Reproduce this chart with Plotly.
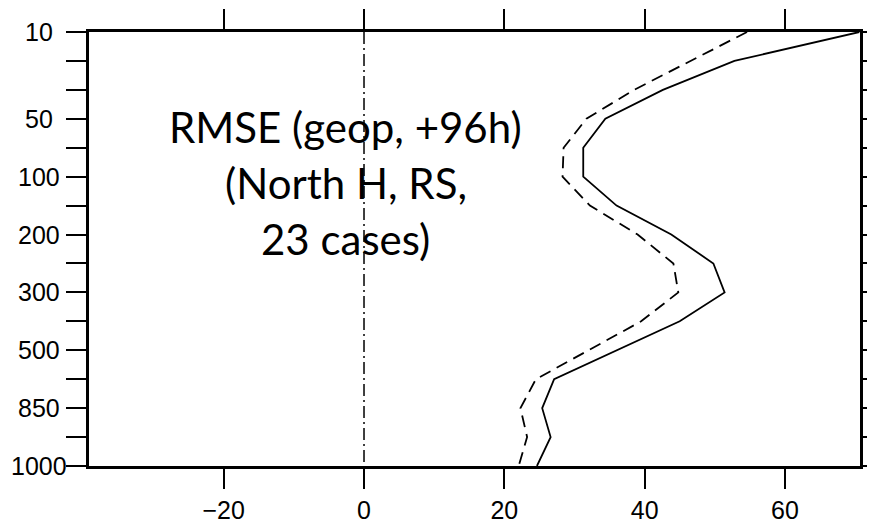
import plotly.graph_objects as go

levels = ["10", "20", "30", "50", "70", "100", "150", "200", "250", "300",
          "400", "500", "700", "850", "925", "1000"]
labeled_levels = ["10", "50", "100", "200", "300", "500", "850", "1000"]
rmse_solid = [70.6, 52.8, 42.6, 34.4, 31.25, 31.25, 36.0, 43.8, 49.8, 51.4,
              45.0, 36.0, 27.1, 25.4, 26.6, 24.65]
rmse_dashed = [54.6, 46.5, 38.5, 31.7, 28.45, 28.3, 32.2, 39.0, 44.1, 44.8,
               39.5, 32.0, 24.5, 22.3, 23.25, 22.05]
zero_x = [0, 0]
zero_y = ["10", "1000"]
x_ticks = [-20, 0, 20, 40, 60]
title_lines = ["RMSE (geop, +96h)", "(North H, RS,", "23 cases)"]

fig = go.Figure()
fig.add_trace(go.Scatter(x=zero_x, y=zero_y, mode="lines",
                         line=dict(color="black", width=1.5, dash="12px,4px,2px,4px"),
                         showlegend=False, hoverinfo="skip"))
fig.add_trace(go.Scatter(x=rmse_dashed, y=levels, mode="lines",
                         line=dict(color="black", width=1.8, dash="12px,7px"),
                         showlegend=False))
fig.add_trace(go.Scatter(x=rmse_solid, y=levels, mode="lines",
                         line=dict(color="black", width=1.8),
                         showlegend=False))

tick_font = dict(family="Liberation Sans, Arial, sans-serif", size=25, color="black")

fig.update_xaxes(range=[-39.2, 70.7], tickmode="array", tickvals=x_ticks,
                 ticktext=["\u221220" if v == -20 else str(v) for v in x_ticks],
                 ticks="outside", ticklen=20, tickwidth=2, tickcolor="black",
                 showline=True, linewidth=3, linecolor="black", mirror="ticks",
                 showgrid=False, zeroline=False, tickfont=tick_font, automargin=False)
fig.update_yaxes(type="category", categoryorder="array", categoryarray=levels,
                 range=[15, 0], tickmode="array", tickvals=levels,
                 showticklabels=False,
                 ticks="outside", ticklen=20, tickwidth=2, tickcolor="black",
                 showline=True, linewidth=3, linecolor="black", mirror="ticks",
                 showgrid=False, zeroline=False, automargin=False)

# pressure-level labels, centred in the left margin (as in the reference);
# on a category axis annotations are placed by category index
for lev in labeled_levels:
    fig.add_annotation(text=lev, xref="paper", yref="y", x=-0.0648,
                       y=levels.index(lev),
                       xanchor="center", yanchor="middle", showarrow=False,
                       font=tick_font)

ys = [0.781, 0.653, 0.523]
for txt, yy in zip(title_lines, ys):
    fig.add_annotation(text=txt, xref="paper", yref="paper", x=0.333, y=yy,
                       xanchor="center", yanchor="middle", showarrow=False,
                       font=dict(family="Lato, Carlito, Calibri, sans-serif", size=42, color="black"))

fig.update_layout(width=867, height=518, margin=dict(l=81, r=15, t=24, b=60),
                  paper_bgcolor="white", plot_bgcolor="white", showlegend=False)

fig.write_html("out.html")
